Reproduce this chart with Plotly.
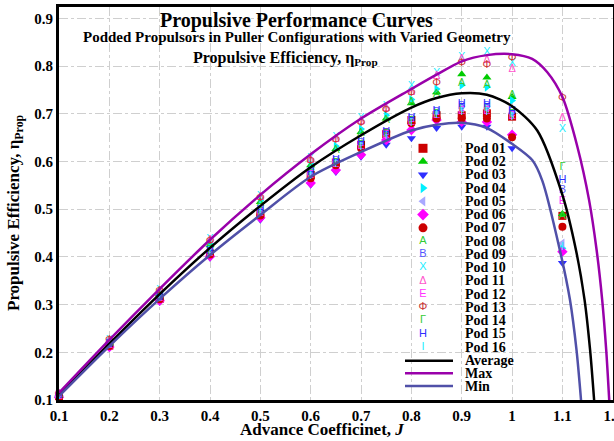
import plotly.graph_objects as go

# ---------------- data ----------------
J = [0.1, 0.2, 0.3, 0.4, 0.5, 0.6, 0.65, 0.7, 0.75, 0.8, 0.85, 0.9, 0.95, 1.0, 1.1]

pod01 = [0.108, 0.214, 0.312, 0.407, 0.490, 0.572, 0.598, 0.635, 0.657, 0.687, 0.697, 0.697, 0.701, 0.694, 0.486]
pod02 = [0.110, 0.220, 0.322, 0.425, 0.515, 0.592, 0.626, 0.662, 0.690, 0.722, 0.745, 0.783, 0.776, 0.735, 0.490]
pod03 = [0.105, 0.210, 0.306, 0.398, 0.478, 0.551, 0.578, 0.610, 0.635, 0.649, 0.670, 0.673, 0.673, 0.628, 0.387]
pod04 = [0.111, 0.222, 0.325, 0.428, 0.518, 0.595, 0.632, 0.668, 0.697, 0.730, 0.752, 0.760, 0.756, 0.728, 0.418]
pod05 = [0.108, 0.216, 0.315, 0.410, 0.495, 0.574, 0.599, 0.636, 0.659, 0.688, 0.703, 0.712, 0.712, 0.700, 0.429]
pod06 = [0.106, 0.211, 0.308, 0.401, 0.482, 0.555, 0.582, 0.614, 0.645, 0.666, 0.687, 0.683, 0.683, 0.656, 0.411]
pod07 = [0.107, 0.213, 0.311, 0.405, 0.487, 0.565, 0.592, 0.628, 0.662, 0.680, 0.690, 0.690, 0.690, 0.651, 0.463]
pod08 = [0.110, 0.220, 0.322, 0.424, 0.513, 0.588, 0.624, 0.660, 0.687, 0.725, 0.741, 0.764, 0.760, 0.739, 0.485]
pod09 = [0.109, 0.216, 0.315, 0.410, 0.496, 0.575, 0.600, 0.638, 0.660, 0.688, 0.704, 0.716, 0.716, 0.703, 0.540]
pod10 = [0.113, 0.226, 0.330, 0.436, 0.528, 0.607, 0.650, 0.690, 0.716, 0.757, 0.785, 0.818, 0.830, 0.805, 0.668]
pod11 = [0.112, 0.224, 0.328, 0.434, 0.525, 0.603, 0.646, 0.684, 0.712, 0.745, 0.778, 0.814, 0.812, 0.794, 0.691]
pod12 = [0.108, 0.215, 0.313, 0.408, 0.492, 0.571, 0.595, 0.632, 0.655, 0.683, 0.698, 0.705, 0.705, 0.695, 0.516]
pod13 = [0.112, 0.225, 0.328, 0.433, 0.524, 0.600, 0.645, 0.680, 0.708, 0.743, 0.764, 0.806, 0.801, 0.816, 0.733]
pod14 = [0.108, 0.215, 0.314, 0.409, 0.494, 0.573, 0.597, 0.635, 0.658, 0.685, 0.700, 0.712, 0.712, 0.700, 0.589]
pod15 = [0.109, 0.217, 0.316, 0.412, 0.498, 0.577, 0.603, 0.641, 0.662, 0.690, 0.706, 0.720, 0.720, 0.706, 0.561]
pod16 = [0.108, 0.214, 0.313, 0.407, 0.491, 0.570, 0.594, 0.630, 0.653, 0.681, 0.697, 0.703, 0.703, 0.692, 0.420]

pod_names = ["Pod 01", "Pod 02", "Pod 03", "Pod 04", "Pod 05", "Pod 06", "Pod 07", "Pod 08",
             "Pod 09", "Pod 10", "Pod 11", "Pod 12", "Pod 13", "Pod 14", "Pod 15", "Pod 16"]
pod_values = [pod01, pod02, pod03, pod04, pod05, pod06, pod07, pod08,
              pod09, pod10, pod11, pod12, pod13, pod14, pod15, pod16]

avg_J = [0.1, 0.2, 0.3, 0.4, 0.5, 0.6, 0.7, 0.8, 0.85, 0.9, 0.95, 1.0, 1.05, 1.1, 1.127, 1.144, 1.155, 1.163]
avg_eta = [0.110, 0.218, 0.322, 0.419, 0.507, 0.588, 0.655, 0.713, 0.733, 0.743, 0.740, 0.716, 0.665, 0.530, 0.414, 0.310, 0.205, 0.100]

max_J = [0.1, 0.2, 0.3, 0.4, 0.5, 0.6, 0.7, 0.8, 0.85, 0.9, 0.95, 1.0, 1.04, 1.07, 1.1, 1.13, 1.153, 1.168, 1.179, 1.187, 1.193]
max_eta = [0.115, 0.226, 0.333, 0.436, 0.530, 0.615, 0.690, 0.752, 0.782, 0.810, 0.823, 0.825, 0.815, 0.787, 0.735, 0.630, 0.519, 0.414, 0.310, 0.205, 0.100]

min_J = [0.1, 0.2, 0.3, 0.4, 0.5, 0.6, 0.7, 0.8, 0.85, 0.9, 0.95, 1.0, 1.04, 1.06, 1.095, 1.115, 1.128, 1.137]
min_eta = [0.108, 0.213, 0.312, 0.404, 0.488, 0.568, 0.620, 0.665, 0.677, 0.681, 0.670, 0.637, 0.603, 0.560, 0.414, 0.310, 0.205, 0.100]

x_ticks = [0.1, 0.2, 0.3, 0.4, 0.5, 0.6, 0.7, 0.8, 0.9, 1.0, 1.1, 1.2]
x_tick_text = ["0.1", "0.2", "0.3", "0.4", "0.5", "0.6", "0.7", "0.8", "0.9", "1", "1.1", "1.2"]
y_ticks = [0.1, 0.2, 0.3, 0.4, 0.5, 0.6, 0.7, 0.8, 0.9]
y_tick_text = ["0.1", "0.2", "0.3", "0.4", "0.5", "0.6", "0.7", "0.8", "0.9"]

# ---------------- styles ----------------
SERIF = "Liberation Serif, Times New Roman, serif"
SANS = "Liberation Sans, Arial, sans-serif"
pod_styles = [
    ("symbol", "square", "#CC0000"),
    ("symbol", "triangle-up", "#00CC00"),
    ("symbol", "triangle-down", "#2E2EFF"),
    ("symbol", "triangle-right", "#00F0FF"),
    ("symbol", "triangle-left", "#A8A8FF"),
    ("symbol", "diamond", "#FF00FF"),
    ("symbol", "circle", "#CC0000"),
    ("text", "Α", "#33CC33"),
    ("text", "Β", "#5555FF"),
    ("text", "Χ", "#22EEFF"),
    ("text", "Δ", "#FF55CC"),
    ("text", "Ε", "#FF33FF"),
    ("text", "Φ", "#CC3333"),
    ("text", "Γ", "#33CC33"),
    ("text", "Η", "#2E2EFF"),
    ("text", "Ι", "#22EEFF"),
]
line_styles = [("Average", "#000000"), ("Max", "#9900AA"), ("Min", "#5050A8")]

W, H = 614, 441
L, R, T, B = 59, 1, 7, 41
PW, PH = W - L - R, H - T - B


def px(xp):
    return (xp - L) / PW


def py(yp):
    return (T + PH - yp) / PH


fig = go.Figure()

# pod markers
for name, vals, (kind, sym, col) in zip(pod_names, pod_values, pod_styles):
    if kind == "symbol":
        fig.add_trace(go.Scatter(x=J, y=vals, mode="markers", name=name, showlegend=False,
                                 marker=dict(symbol=sym, size=8, color=col, line=dict(width=0)),
                                 cliponaxis=False))
    else:
        fig.add_trace(go.Scatter(x=J, y=vals, mode="text", name=name, showlegend=False,
                                 text=[sym] * len(J), textposition="middle center",
                                 textfont=dict(family=SANS, size=11, color=col),
                                 cliponaxis=False))

# curves
for (lname, col), xs, ys in zip(line_styles, [avg_J, max_J, min_J], [avg_eta, max_eta, min_eta]):
    fig.add_trace(go.Scatter(x=xs, y=ys, mode="lines", name=lname, showlegend=False,
                             line=dict(color=col, width=2.5, shape="spline", smoothing=0.8)))

# manual legend (pixel-coordinate overlay axes)
row0, drow = 148.3, 13.26
for i, (name, (kind, sym, col)) in enumerate(zip(pod_names, pod_styles)):
    yy = row0 + i * drow
    if kind == "symbol":
        fig.add_trace(go.Scatter(x=[423], y=[yy], xaxis="x2", yaxis="y2", mode="markers",
                                 showlegend=False, hoverinfo="skip",
                                 marker=dict(symbol=sym, size=9, color=col, line=dict(width=0))))
    else:
        fig.add_trace(go.Scatter(x=[423], y=[yy], xaxis="x2", yaxis="y2", mode="text",
                                 text=[sym], showlegend=False, hoverinfo="skip",
                                 textfont=dict(family=SANS, size=11, color=col)))
    fig.add_annotation(x=463, y=yy, xref="x2", yref="y2", text=name, showarrow=False,
                       xanchor="left", yanchor="middle",
                       font=dict(family=SERIF, size=14, color="black", weight="bold"))
line_rows = [360.7, 373.3, 386.0]
for (lname, col), yy in zip(line_styles, line_rows):
    fig.add_trace(go.Scatter(x=[405, 453], y=[yy, yy], xaxis="x2", yaxis="y2", mode="lines",
                             showlegend=False, hoverinfo="skip",
                             line=dict(color=col, width=2.5)))
    fig.add_annotation(x=463, y=yy, xref="x2", yref="y2", text=lname, showarrow=False,
                       xanchor="left", yanchor="middle",
                       font=dict(family=SERIF, size=14, color="black", weight="bold"))


def label(x, y, text, size, angle=0):
    fig.add_annotation(x=px(x), y=py(y), xref="paper", yref="paper", text=text,
                       showarrow=False, xanchor="center", yanchor="middle", textangle=angle,
                       font=dict(family=SERIF, size=size, color="black", weight="bold"))


# titles
label(296, 20, "Propulsive Performance Curves", 20)
label(297, 37, "Podded Propulsors in Puller Configurations with Varied Geometry", 15)
label(285, 59, "Propulsive Efficiency, η<sub>Prop</sub>", 16)
# axis titles
label(322, 430, "Advance Coefficinet, <i>J</i>", 17)
label(15, 213, "Propulsive Efficiency, η<sub>Prop</sub>", 17, angle=-90)

tickfont = dict(family=SERIF, size=15, color="black", weight="bold")
fig.update_layout(
    width=W, height=H,
    margin=dict(l=L, r=R, t=T, b=B, pad=0, autoexpand=False),
    paper_bgcolor="white", plot_bgcolor="white",
    showlegend=False,
    xaxis=dict(range=[0.1, 1.2005], tickvals=x_ticks, ticktext=x_tick_text, tickfont=tickfont,
               ticklabeloverflow="allow", automargin=False,
               showgrid=True, gridcolor="#CFCFCF", griddash="dashdot", gridwidth=1,
               showline=True, linecolor="black", linewidth=3, mirror=True,
               zeroline=False, ticks="", ticklen=0),
    yaxis=dict(range=[0.1, 0.1 + PH / 477.0], tickvals=y_ticks, ticktext=y_tick_text,
               tickfont=tickfont, ticklabeloverflow="allow", automargin=False,
               showgrid=True, gridcolor="#CFCFCF", griddash="dashdot", gridwidth=1,
               showline=True, linecolor="black", linewidth=3, mirror=True,
               zeroline=False, ticks="", ticklen=0),
    xaxis2=dict(range=[L, L + PW], overlaying="x", visible=False),
    yaxis2=dict(range=[T + PH, T], overlaying="y", visible=False),
)

fig.write_html("out.html")
